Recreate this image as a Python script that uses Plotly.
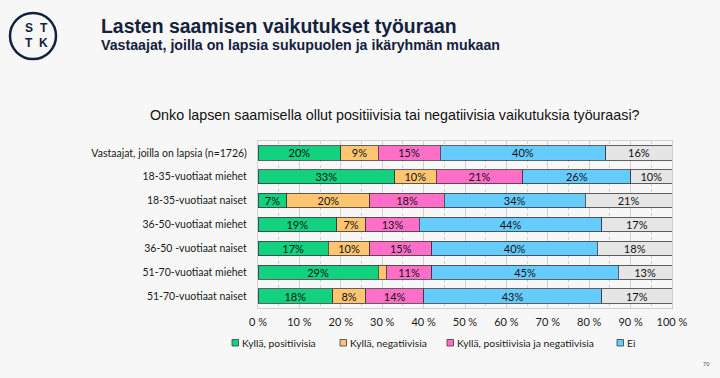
import plotly.graph_objects as go

categories = [
    "Vastaajat, joilla on lapsia (n=1726)",
    "18-35-vuotiaat miehet",
    "18-35-vuotiaat naiset",
    "36-50-vuotiaat miehet",
    "36-50 -vuotiaat naiset",
    "51-70-vuotiaat miehet",
    "51-70-vuotiaat naiset",
]
positive = [20, 33, 7, 19, 17, 29, 18]
negative = [9, 10, 20, 7, 10, 2, 8]
both = [15, 21, 18, 13, 15, 11, 14]
no = [40, 26, 34, 44, 40, 45, 43]
dont_know = [16, 10, 21, 17, 18, 13, 17]

series_names = ["Kyllä, positiivisia", "Kyllä, negatiivisia",
                "Kyllä, positiivisia ja negatiivisia", "Ei", "En osaa sanoa"]
series_values = [positive, negative, both, no, dont_know]
series_colors = ["#12D27F", "#FFC571", "#FF6FC8", "#66CCFF", "#E5E5E5"]
legend_x_px = [232, 340, 447, 617]   # legend entry positions (first four series)

tick_vals = list(range(0, 101, 10))
tick_text = [f"{v} %" for v in tick_vals]

NAVY = "#14213D"
FONT_BODY = "Lato, 'Noto Sans', sans-serif"
FONT_HEAD = "Liberation Sans, Arial, sans-serif"

W, H = 720, 378
L, R, T, B = 258, 48, 141, 70
PW, PH = W - L - R, H - T - B

def px_x(px):
    return (px - L) / PW

def px_y(py):
    return (H - B - py) / PH

fig = go.Figure()
for name, vals, col in zip(series_names, series_values, series_colors):
    fig.add_trace(go.Bar(
        y=categories, x=vals, name=name, orientation="h",
        marker=dict(color=col, line=dict(color="#3a3a3a", width=0.8)),
        text=[f"{v}%" if v >= 5 else "" for v in vals],
        textposition="inside", insidetextanchor="middle",
        textfont=dict(color="#111111", size=11, family=FONT_BODY),
        width=0.6, showlegend=False,
        hovertemplate="%{y}: %{x}%<extra>" + name + "</extra>",
    ))

fig.update_layout(
    barmode="stack",
    width=W, height=H,
    paper_bgcolor="#F7F7F7", plot_bgcolor="#F7F7F7",
    margin=dict(l=L, r=R, t=T, b=B, autoexpand=False),
    font=dict(family=FONT_BODY, size=11, color="#1a1a1a"),
    uniformtext=dict(minsize=11, mode="show"),
    showlegend=False,
    xaxis=dict(range=[0, 100], tickvals=tick_vals, ticktext=tick_text,
               showgrid=True, gridcolor="#D0D0D0", gridwidth=1,
               minor=dict(dtick=5, showgrid=True, gridcolor="#D0D0D0", griddash="dot"),
               zeroline=False, showline=True, linecolor="#D0D0D0", mirror=True,
               tickfont=dict(size=11, family=FONT_BODY, color="#1a1a1a"), ticks="",
               ticklabelstandoff=4, automargin=False),
    yaxis=dict(categoryorder="array", categoryarray=categories, autorange="reversed",
               showgrid=False, showline=True, linecolor="#D0D0D0", mirror=True,
               tickfont=dict(size=10.5, family=FONT_BODY, color="#1a1a1a"),
               ticks="outside", ticklen=8, tickcolor="rgba(0,0,0,0)",
               automargin=False),
)

# Logo
fig.add_shape(type="circle", xref="paper", yref="paper",
              x0=px_x(10), x1=px_x(56), y0=px_y(59), y1=px_y(13),
              line=dict(color=NAVY, width=2.5))
for txt, cx, cy in [("S", 28.5, 28), ("T", 43.5, 28), ("T", 28.5, 43), ("K", 43.5, 43)]:
    fig.add_annotation(text=f"<b>{txt}</b>", xref="paper", yref="paper",
                       x=px_x(cx), y=px_y(cy), xanchor="center", yanchor="middle",
                       showarrow=False,
                       font=dict(size=12, color=NAVY, family=FONT_HEAD))

fig.add_annotation(text="<b>Lasten saamisen vaikutukset työuraan</b>", xref="paper", yref="paper",
                   x=px_x(99), y=px_y(26), xanchor="left", yanchor="middle", showarrow=False,
                   font=dict(size=19.4, color=NAVY, family=FONT_HEAD))
fig.add_annotation(text="<b>Vastaajat, joilla on lapsia sukupuolen ja ikäryhmän mukaan</b>",
                   xref="paper", yref="paper",
                   x=px_x(99), y=px_y(45), xanchor="left", yanchor="middle", showarrow=False,
                   font=dict(size=14.2, color=NAVY, family=FONT_HEAD))
fig.add_annotation(text="Onko lapsen saamisella ollut positiivisia tai negatiivisia vaikutuksia työuraasi?",
                   xref="paper", yref="paper",
                   x=px_x(395), y=px_y(115), xanchor="center", yanchor="middle", showarrow=False,
                   font=dict(size=14.3, color="#111111", family=FONT_HEAD))
fig.add_annotation(text="70", xref="paper", yref="paper",
                   x=px_x(706), y=px_y(364), xanchor="center", yanchor="middle", showarrow=False,
                   font=dict(size=6, color="#555555", family=FONT_HEAD))

# Manual legend (first four series)
for name, col, lx in zip(series_names[:4], series_colors[:4], legend_x_px):
    fig.add_shape(type="rect", xref="paper", yref="paper",
                  x0=px_x(lx), x1=px_x(lx + 6.5), y0=px_y(346), y1=px_y(339.5),
                  fillcolor=col, line=dict(color="#3a3a3a", width=0.8))
    fig.add_annotation(text=name, xref="paper", yref="paper",
                       x=px_x(lx + 7.5), y=px_y(342.5), xanchor="left", yanchor="middle",
                       showarrow=False,
                       font=dict(size=10.3, color="#1a1a1a", family=FONT_BODY))

fig.write_html("out.html", config={"displayModeBar": False},
               post_script="document.body.style.margin='0';document.body.style.padding='0';"
                           "document.body.style.background='#F7F7F7';")
